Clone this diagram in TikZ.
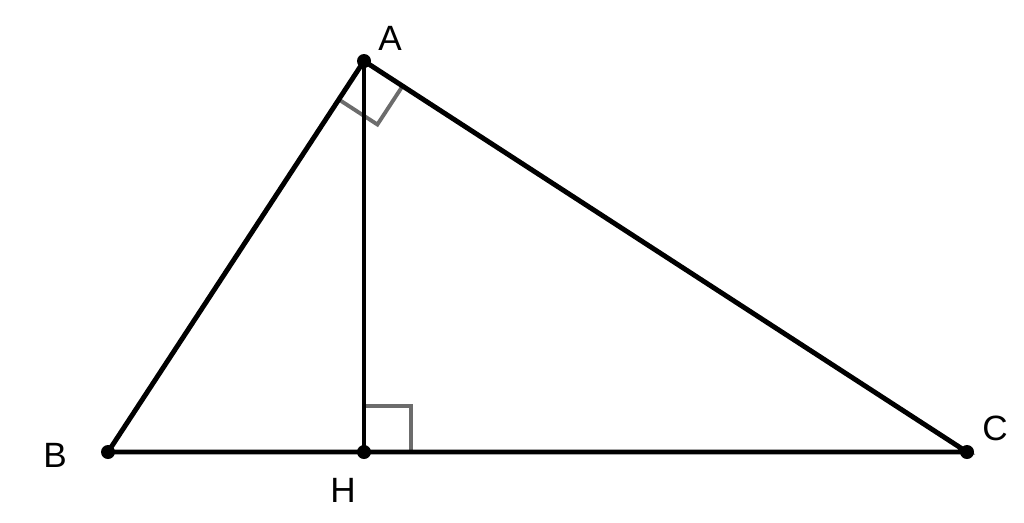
\documentclass[tikz,border=0pt]{standalone}
\usepackage{fontspec}
\setmainfont{Liberation Sans}
\usetikzlibrary{calc}
\begin{document}
\begin{tikzpicture}[x=0.02cm,y=-0.02cm,
  seg/.style={line width=2.8pt,black,line cap=round},
  ra/.style={line width=2.2pt,gray!85!black},
  dot/.style={circle,fill=black,inner sep=0pt,minimum size=14*0.02cm},
  lbl/.style={font=\fontsize{20}{24}\selectfont}]
\useasboundingbox (0,0) rectangle (1024,522);
\coordinate (A) at (364,61);
\coordinate (B) at (108,452);
\coordinate (C) at (967,452);
\coordinate (H) at (364,452);
% right angle marks
\draw[ra] ($(A)!46*0.02cm!(B)$) -- ($(A)!46*0.02cm!(B) + (A)!46*0.02cm!(C) - (A)$) -- ($(A)!46*0.02cm!(C)$);
\draw[ra] (364,406) -- (411,406) -- (411,452);
% sides
\draw[seg] (A) -- (B) -- (C) -- cycle;
\draw[seg] (A) -- (H);
\node[dot] (dA) at (A) {};
\node[dot] (dB) at (B) {};
\node[dot] (dC) at (C) {};
\node[dot] (dH) at (H) {};
\node[lbl] (lA) at (390,38) {A};
\node[lbl] (lB) at (55,455) {B};
\node[lbl] (lC) at (995,428) {C};
\node[lbl] (lH) at (343,490) {H};
\end{tikzpicture}
\end{document}
